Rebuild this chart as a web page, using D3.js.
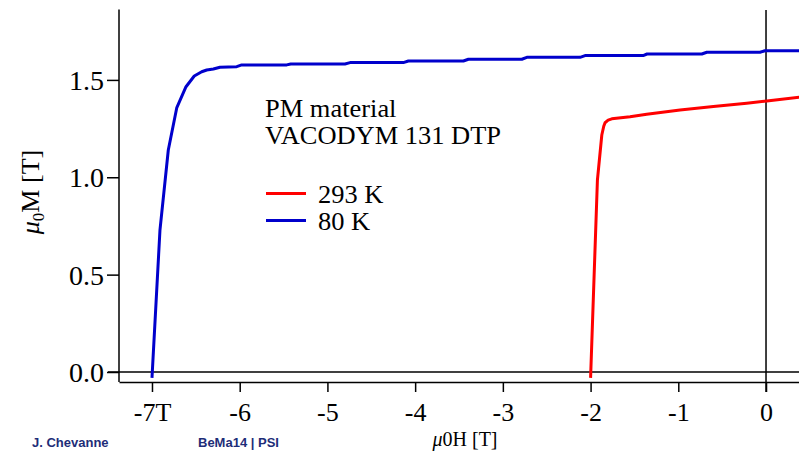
<!DOCTYPE html>
<html>
<head>
<meta charset="utf-8">
<script src="https://cdn.jsdelivr.net/npm/d3@7"></script>
<style>
  html, body { margin: 0; padding: 0; background: #fff; overflow: hidden; }
  svg { display: block; font-family: 'Liberation Serif', 'DejaVu Serif', serif; }
</style>
</head>
<body>
<svg id="chart" width="799" height="451"></svg>
<script>
// Data: [mu0H (T), mu0M (T)]
const xTicks = [-7, -6, -5, -4, -3, -2, -1, 0];
const xTickLabels = ['-7T', '-6', '-5', '-4', '-3', '-2', '-1', '0'];
const yTicks = [0, 0.5, 1.0, 1.5];

const series80K = [
  [-7.00, -0.03], [-6.909, 0.729], [-6.814, 1.140], [-6.718, 1.356], [-6.612, 1.465],
  [-6.518, 1.520], [-6.433, 1.542], [-6.376, 1.551], [-6.300, 1.556], [-6.225, 1.565],
  [-6.034, 1.568], [-5.977, 1.577], [-5.464, 1.577], [-5.418, 1.582], [-4.800, 1.582],
  [-4.742, 1.589], [-4.135, 1.589], [-4.077, 1.597], [-3.450, 1.597], [-3.393, 1.606],
  [-2.784, 1.606], [-2.727, 1.616], [-2.120, 1.616], [-2.063, 1.625], [-1.401, 1.625],
  [-1.356, 1.633], [-0.732, 1.633], [-0.675, 1.642], [-0.068, 1.642], [-0.011, 1.650],
  [0.38, 1.650]
];

const series293K = [
  [-2.000, -0.03], [-1.922, 0.986], [-1.872, 1.217], [-1.850, 1.262], [-1.835, 1.280],
  [-1.800, 1.293], [-1.758, 1.300], [-1.550, 1.311], [-1.360, 1.324], [-0.980, 1.346],
  [-0.600, 1.363], [-0.220, 1.380], [0.009, 1.392], [0.38, 1.411]
];

const legendTitle = ['PM material', 'VACODYM 131 DTP'];
const legendItems = [
  { label: '293 K', color: '#ff0000', data: series293K },
  { label: '80 K', color: '#0000cc', data: series80K }
];

const svg = d3.select('#chart');
const margin = { top: 10, right: 0, bottom: 69, left: 119 };
const width = 799 - margin.left - margin.right;
const height = 451 - margin.top - margin.bottom;

const x = d3.scaleLinear().domain([-7.376, 0.376]).range([0, width]);
const y = d3.scaleLinear().domain([-0.0514, 1.859]).range([height, 0]);

const g = svg.append('g').attr('transform', `translate(${margin.left},${margin.top})`);

// zero lines
g.append('line')
  .attr('x1', -11).attr('x2', width)
  .attr('y1', y(0)).attr('y2', y(0))
  .attr('stroke', '#000').attr('stroke-width', 1.5);
g.append('line')
  .attr('x1', x(0)).attr('x2', x(0))
  .attr('y1', 0).attr('y2', height + 10)
  .attr('stroke', '#000').attr('stroke-width', 1.5);

// axes
const xAxis = g.append('g')
  .attr('transform', `translate(0,${height})`)
  .call(d3.axisBottom(x).tickValues(xTicks).tickSize(10).tickSizeOuter(0)
    .tickFormat((d, i) => xTickLabels[i]));
const yAxis = g.append('g')
  .call(d3.axisLeft(y).tickValues(yTicks).tickSize(12).tickSizeOuter(0)
    .tickFormat(d3.format('.1f')));

[xAxis, yAxis].forEach(a => {
  a.attr('font-family', null).attr('font-size', null);
  a.select('.domain').attr('stroke', '#000').attr('stroke-width', 1.5);
  a.selectAll('.tick line').attr('stroke', '#000').attr('stroke-width', 1.5);
  a.selectAll('text')
    .attr('fill', '#000')
    .style('font-family', "'Liberation Serif', serif");
});
xAxis.selectAll('text').attr('dy', '1.0em').style('font-size', '26px');
yAxis.selectAll('text').attr('x', -15).attr('dy', '0.34em').style('font-size', '28px');
yAxis.select('.domain').attr('d', `M0,${height}V-0.5`);

// curves
legendItems.forEach(s => {
  g.append('path')
    .datum(s.data)
    .attr('d', d3.line().x(d => x(d[0])).y(d => y(d[1])))
    .attr('fill', 'none')
    .attr('stroke', s.color)
    .attr('stroke-width', 3)
    .attr('stroke-linejoin', 'round');
});

// legend
const lg = svg.append('g');
legendTitle.forEach((t, i) => {
  lg.append('text')
    .attr('transform', `translate(265,${116.5 + i * 27.5}) scale(1.08,1)`)
    .style('font-size', '24.5px')
    .text(t);
});
legendItems.forEach((s, i) => {
  const yy = 193.5 + i * 27;
  lg.append('line')
    .attr('x1', 266).attr('x2', 306)
    .attr('y1', yy).attr('y2', yy)
    .attr('stroke', s.color).attr('stroke-width', 3);
  lg.append('text')
    .attr('transform', `translate(318,${yy + 9}) scale(1.08,1)`)
    .style('font-size', '24.5px')
    .text(s.label);
});

// axis titles
const xt = svg.append('text')
  .attr('x', 465).attr('y', 446)
  .attr('text-anchor', 'middle')
  .style('font-size', '20px');
xt.append('tspan').style('font-style', 'italic').text('μ');
xt.append('tspan').text('0H [T]');

const yt = svg.append('text')
  .attr('transform', 'translate(39,192) rotate(-90)')
  .attr('text-anchor', 'middle')
  .style('font-size', '26px');
yt.append('tspan').style('font-style', 'italic').text('μ');
yt.append('tspan').attr('dy', 5).style('font-size', '17px').text('0');
yt.append('tspan').attr('dy', -5).text('M [T]');

// footer
const footer = svg.append('g')
  .style('font-family', "'Liberation Sans', Arial, sans-serif")
  .style('font-weight', 'bold')
  .style('font-size', '13px')
  .attr('fill', '#1e2d78');
footer.append('text').attr('x', 32).attr('y', 447).text('J. Chevanne');
footer.append('text').attr('x', 198).attr('y', 447).text('BeMa14 | PSI');
</script>
</body>
</html>
